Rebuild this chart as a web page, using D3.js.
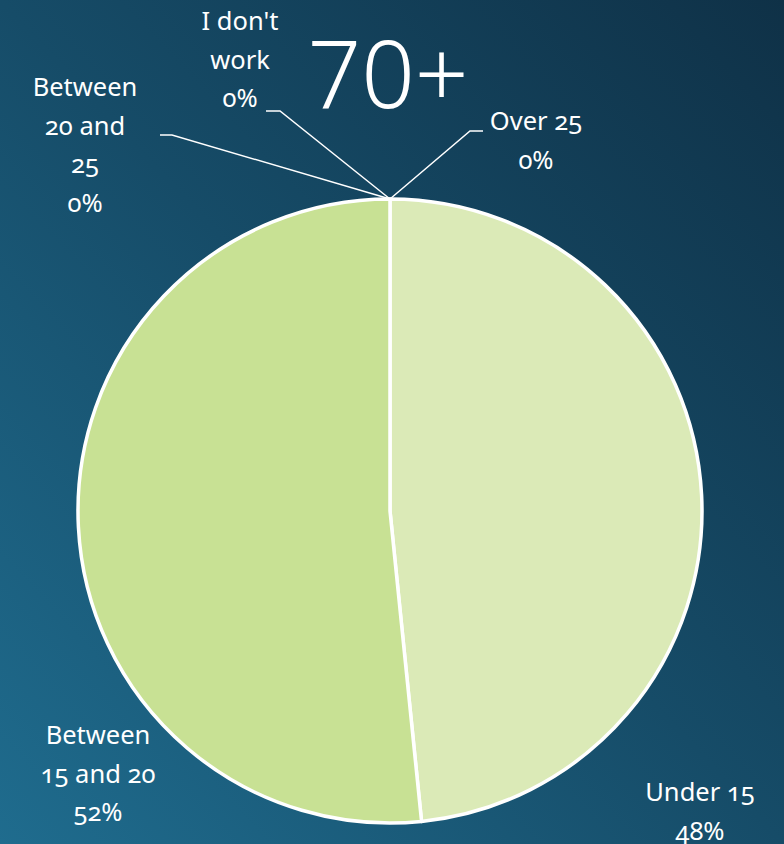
<!DOCTYPE html>
<html>
<head>
<meta charset="utf-8">
<script src="https://cdn.jsdelivr.net/npm/d3@7"></script>
<style>
  html, body { margin: 0; padding: 0; background: #123d56; }
  svg text { font-family: "Noto Sans", "Open Sans", sans-serif; fill: #fff; font-variant-numeric: oldstyle-nums; font-feature-settings: "onum" 1; }
</style>
</head>
<body>
<div id="chart"></div>
<script>
// Datos de la gráfica
const categories = ["Under 15", "Between 15 and 20", "Between 20 and 25", "I don't work", "Over 25"];
const counts = [15, 16, 0, 0, 0];
const sliceColors = ["#dbeab7", "#c8e194", "#b5d774", "#a8cf5d", "#9cc64c"];
const title = "70+";

// Etiquetas: líneas de texto
const labelLines = [
  ["Under 15", "48%"],
  ["Between", "15 and 20", "52%"],
  ["Between", "20 and", "25", "0%"],
  ["I don't", "work", "0%"],
  ["Over 25", "0%"]
];

const width = 784, height = 844;
const cx = 390, cy = 511, radius = 312;

const svg = d3.select("#chart").append("svg")
  .attr("width", width)
  .attr("height", height);

// Fondo con degradado
const defs = svg.append("defs");
const grad = defs.append("linearGradient")
  .attr("id", "bg")
  .attr("x1", "0%").attr("y1", "100%")
  .attr("x2", "100%").attr("y2", "0%");
grad.append("stop").attr("offset", "0%").attr("stop-color", "#1f6c8e");
grad.append("stop").attr("offset", "50%").attr("stop-color", "#164c68");
grad.append("stop").attr("offset", "100%").attr("stop-color", "#0f3147");

svg.append("rect")
  .attr("width", width)
  .attr("height", height)
  .attr("fill", "url(#bg)");

const total = d3.sum(counts);
const data = categories.map((c, i) => ({ name: c, value: counts[i] }));

const pie = d3.pie().sort(null).value(d => d.value);
const arc = d3.arc().innerRadius(0).outerRadius(radius);
const arcs = pie(data);

const g = svg.append("g").attr("transform", `translate(${cx},${cy})`);

g.selectAll("path")
  .data(arcs.filter(d => d.data.value > 0))
  .enter()
  .append("path")
  .attr("d", arc)
  .attr("fill", d => sliceColors[categories.indexOf(d.data.name)])
  .attr("stroke", "#fff")
  .attr("stroke-width", 3.5)
  .attr("stroke-linejoin", "round");

// Posiciones de las etiquetas (relativas al centro)
const labelPos = [
  { x: 310, y: 290 },
  { x: -292, y: 233 },
  { x: -305, y: -415 },
  { x: -150, y: -481 },
  { x: 146, y: -381 }
];
// Líneas guía para las porciones de 0%
const leaders = {
  2: [[-218, -376], [-230, -376]],
  3: [[-110, -400], [-124, -400]],
  4: [[80, -380], [93, -380]]
};

const lineH = 38.5;
arcs.forEach((d, i) => {
  const p = labelPos[i];
  const t = g.append("text")
    .attr("text-anchor", "middle")
    .attr("font-size", 25.5);
  labelLines[i].forEach((ln, k) => {
    t.append("tspan")
      .attr("x", p.x)
      .attr("y", p.y + k * lineH)
      .text(ln);
  });
  if (leaders[i]) {
    const a = d.startAngle;
    const start = [radius * Math.sin(a), -radius * Math.cos(a)];
    g.append("polyline")
      .attr("points", [start, ...leaders[i]].map(q => q.join(",")).join(" "))
      .attr("fill", "none")
      .attr("stroke", "#fff")
      .attr("stroke-width", 1.5);
  }
});

// Título
svg.append("text")
  .attr("x", 388)
  .attr("y", 108)
  .attr("text-anchor", "middle")
  .attr("font-size", 94)
  .attr("font-weight", 300)
  .style("font-variant-numeric", "normal")
  .style("font-feature-settings", "normal")
  .text(title);
</script>
</body>
</html>
